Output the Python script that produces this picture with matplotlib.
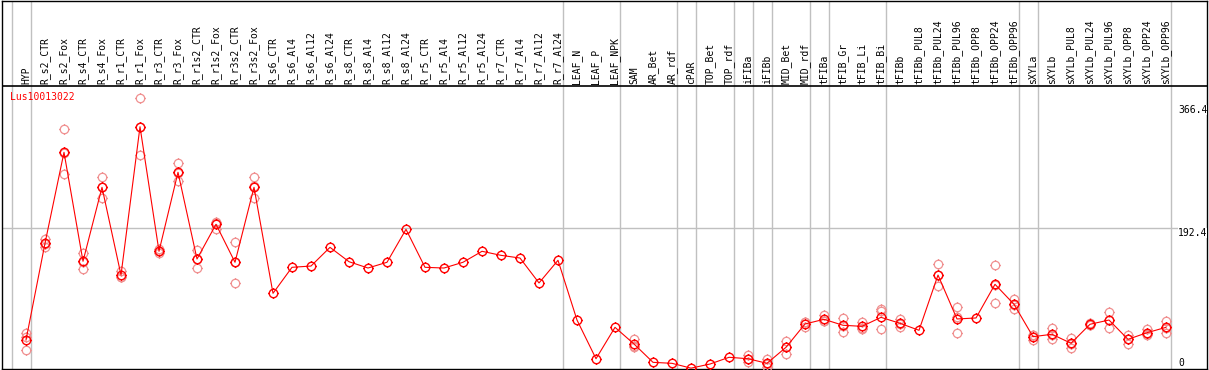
import numpy as np
import matplotlib
matplotlib.use("Agg")
import matplotlib.pyplot as plt
from matplotlib.path import Path

# ---------------- data ----------------
samples = ["HYP",
           "R_s2_CTR", "R_s2_Fox", "R_s4_CTR", "R_s4_Fox", "R_r1_CTR", "R_r1_Fox",
           "R_r3_CTR", "R_r3_Fox", "R_r1s2_CTR", "R_r1s2_Fox", "R_r3s2_CTR", "R_r3s2_Fox",
           "R_s6_CTR", "R_s6_Al4", "R_s6_Al12", "R_s6_Al24",
           "R_s8_CTR", "R_s8_Al4", "R_s8_Al12", "R_s8_Al24",
           "R_r5_CTR", "R_r5_Al4", "R_r5_Al12", "R_r5_Al24",
           "R_r7_CTR", "R_r7_Al4", "R_r7_Al12", "R_r7_Al24",
           "LEAF_N", "LEAF_P", "LEAF_NPK", "SAM", "AR_Bet", "AR_rdf", "cPAR",
           "TOP_Bet", "TOP_rdf", "iFIBa", "iFIBb", "MID_Bet", "MID_rdf",
           "tFIBa", "tFIB_Gr", "tFIB_Li", "tFIB_Bi", "tFIBb",
           "tFIBb_PUL8", "tFIBb_PUL24", "tFIBb_PUL96", "tFIBb_OPP8", "tFIBb_OPP24", "tFIBb_OPP96",
           "sXYLa", "sXYLb",
           "sXYLb_PUL8", "sXYLb_PUL24", "sXYLb_PUL96", "sXYLb_OPP8", "sXYLb_OPP24", "sXYLb_OPP96"]

mean_values = [34.7,
               171.2, 299.6, 145.8, 250.2, 126.4, 335.7,
               159.9, 271.4, 149.0, 198.0, 144.4, 250.2,
               100.6, 137.3, 139.1, 165.5,
               145.2, 136.3, 144.4, 190.9,
               137.3, 136.3, 144.4, 159.9,
               154.2, 150.4, 115.2, 147.2,
               62.9, 8.3, 52.6, 29.1, 3.2, 1.8, -5.0,
               0.8, 10.3, 8.3, 1.8, 24.4, 57.3,
               63.9, 55.5, 54.0, 66.7, 58.3,
               48.4, 126.4, 64.4, 65.8, 113.3, 85.1,
               39.4, 42.8,
               30.1, 56.9, 62.9, 35.7, 45.0, 52.6]

replicates = [[45.0, 20.6, 38.5],
              [176.8, 166.4, 170.3], [332.1, 268.6, 298.1], [157.9, 134.5, 145.0],
              [264.3, 235.5, 250.8], [124.0, 123.6, 131.6], [375.8, 295.4, 335.9],
              [157.1, 162.6, 160.0], [284.1, 259.1, 271.0], [161.7, 135.9, 149.4],
              [201.7, 200.3, 192.0], [173.4, 114.7, 145.1], [264.3, 234.7, 251.6],
              [], [], [], [],
              [], [], [], [],
              [], [], [], [],
              [], [], [], [],
              [], [], [], [35.7, 25.3, 26.3], [], [], [],
              [], [], [13.1, 3.7, 8.0], [7.5, -3.0, 1.0], [33.7, 14.5, 25.0], [59.7, 52.6, 59.6],
              [69.6, 61.0, 61.0], [65.8, 45.6, 55.0], [60.1, 50.7, 51.0], [78.9, 75.2, 50.7],
              [64.8, 53.1, 57.0],
              [], [142.0, 111.3, 126.0], [81.7, 44.2, 67.0], [], [140.1, 86.5, 113.0],
              [92.6, 78.5, 84.0],
              [34.7, 41.7, 41.7], [51.2, 35.7, 41.5],
              [38.0, 23.8, 28.5], [58.3, 56.0, 56.0], [74.2, 51.6, 63.0],
              [41.8, 28.6, 36.7], [50.7, 41.8, 42.5], [61.5, 44.2, 52.0]]

# group separators: placed after these sample indices
group_ends = [-1, 0, 28, 31, 34, 35, 37, 38, 39, 41, 42, 45, 52, 53, 60]
y_ticks = [366.4, 192.4, 0]
y_tick_labels = ["366.4", "192.4", "0"]
title = "Lus10013022"

# ---------------- layout (pixel geometry) ----------------
W, H = 1209, 370
DPI = 100
fig = plt.figure(figsize=(W / DPI, H / DPI), dpi=DPI)
fig.patch.set_facecolor("white")

px_left, px_right = 2.0, 1207.0
px_top, px_bot = 0.5, 368.5
ax = fig.add_axes([px_left / W, (H - px_bot) / H,
                   (px_right - px_left) / W, (px_bot - px_top) / H])

col_x0, col_dx = 26.0, 19.0          # pixel x of first column, spacing
zero_px, unit_px = 364.6, 0.7086     # pixel y of value 0, pixels per unit


def x_of_px(px):
    return (px - col_x0) / col_dx


def v_of_px(py):
    return (zero_px - py) / unit_px


ax.set_xlim(x_of_px(px_left), x_of_px(px_right))
ax.set_ylim(v_of_px(px_bot), v_of_px(px_top))
ax.set_xticks([])
ax.set_yticks([])
for s in ax.spines.values():
    s.set_linewidth(1.0)
    s.set_color("black")

mono = "DejaVu Sans Mono"
grey = "#c0c0c0"

# separators
sep_offset = 4.6 / col_dx
for g in group_ends:
    ax.axvline(g + sep_offset, color=grey, lw=1.0, zorder=1)

# header divider
ax.axhline(v_of_px(86.0), color="black", lw=1.2, zorder=2)

# middle grid line at 192.4
ax.plot([x_of_px(px_left), x_of_px(1177)], [192.4, 192.4], color=grey, lw=1.0, zorder=1)

# marker: circle with four small nubs
circ = Path.unit_circle()
ticks = []
for dx, dy in [(0, 1), (0, -1), (1, 0), (-1, 0)]:
    ticks.append(Path([[dx * 1.0, dy * 1.0], [dx * 1.22, dy * 1.22]],
                      [Path.MOVETO, Path.LINETO]))
mk = Path.make_compound_path(circ, *ticks)
MS = 7.4

xs = np.arange(len(samples))

# replicates
rx, ry = [], []
for i, reps in enumerate(replicates):
    for r in reps:
        rx.append(xs[i])
        ry.append(r)
ax.plot(rx, ry, linestyle="none", marker=mk, markersize=MS,
        markerfacecolor="none", markeredgecolor="#f09090", markeredgewidth=0.9, zorder=3)

# mean line
ax.plot(xs, mean_values, color="#ff0000", lw=0.8, zorder=4)
ax.plot(xs, mean_values, linestyle="none", marker=mk, markersize=MS,
        markerfacecolor="none", markeredgecolor="#ff0000", markeredgewidth=1.0, zorder=5)

# sample labels in header
for i, name in enumerate(samples):
    ax.text(xs[i], v_of_px(83.5), name, rotation=90, ha="center", va="bottom",
            fontsize=7, family=mono, color="black", zorder=6)

# title
ax.text(x_of_px(10), v_of_px(97.5), title, ha="left", va="center",
        fontsize=7, family=mono, color="#ff0000", zorder=6)

# y labels on the right
for val, lab in zip(y_ticks, y_tick_labels):
    py = zero_px - val * unit_px
    py = min(py, 357.5)
    ax.text(x_of_px(1178), v_of_px(py), lab, ha="left", va="top",
            fontsize=7, family=mono, color="black", zorder=6,
            bbox=dict(facecolor="white", edgecolor="none", pad=0.0))

fig.savefig("out.png", dpi=DPI, facecolor="white")
